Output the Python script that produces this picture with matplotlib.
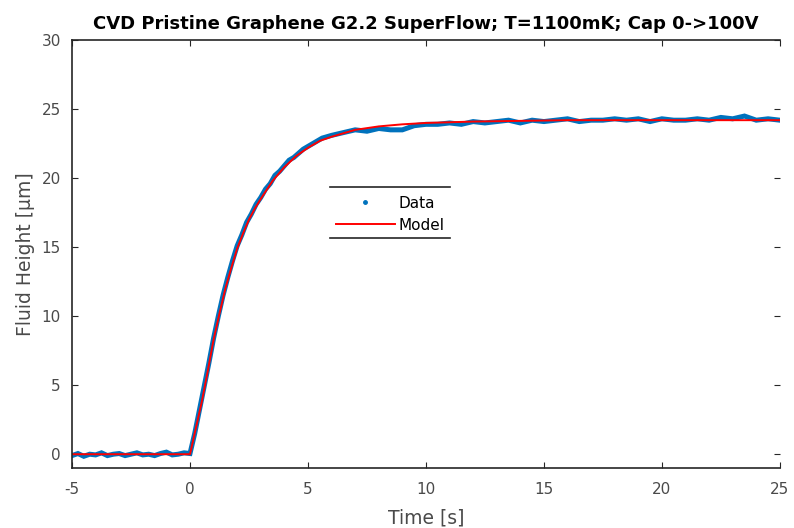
import numpy as np
import matplotlib
matplotlib.use("Agg")
import matplotlib.pyplot as plt
from matplotlib.lines import Line2D

# Measured fluid height (μm) vs time (s)
pre_t = np.arange(-5.0, 0.001, 0.25)
pre_y = [-0.1, 0.05, -0.15, 0.0, -0.05, 0.1, -0.1, 0.0, 0.05, -0.1, 0.0,
         0.1, -0.05, 0.0, -0.1, 0.05, 0.15, -0.05, 0.0, 0.1, 0.05]

rise_t = np.arange(0.2, 6.001, 0.2)
rise_y = [1.5, 3.2, 4.9, 6.6, 8.4, 10.0, 11.5, 12.8, 14.0, 15.1,
          15.9, 16.8, 17.4, 18.1, 18.6, 19.2, 19.6, 20.2, 20.5, 20.9,
          21.3, 21.5, 21.8, 22.1, 22.3, 22.5, 22.7, 22.9, 23.0, 23.1]

plateau_t = np.arange(6.5, 25.001, 0.5)
plateau_y = [23.3, 23.5, 23.4, 23.6, 23.5, 23.5, 23.8, 23.9, 23.9, 24.0,
             23.9, 24.1, 24.0, 24.1, 24.2, 24.0, 24.2, 24.1, 24.2, 24.3,
             24.1, 24.2, 24.2, 24.3, 24.2, 24.3, 24.1, 24.3, 24.2, 24.2,
             24.3, 24.2, 24.4, 24.3, 24.5, 24.2, 24.3, 24.2]

# Fitted model curve
model_t = [-5, 0, 0.25, 0.5, 0.75, 1.0, 1.25, 1.5, 1.75, 2.0, 2.25, 2.5, 2.75,
           3.0, 3.5, 4.0, 4.5, 5.0, 5.5, 6.0, 7.0, 8.0, 9.0, 10, 12, 14,
           16, 18, 20, 22, 24, 25]
model_y = [0, 0, 1.9, 3.8, 6.0, 8.3, 10.2, 12.0, 13.5, 14.9, 16.0, 17.0, 17.8,
           18.5, 19.8, 20.8, 21.6, 22.2, 22.7, 23.0, 23.5, 23.75, 23.9, 24.0,
           24.1, 24.15, 24.2, 24.2, 24.2, 24.2, 24.2, 24.2]

data_t = np.concatenate([pre_t, rise_t, plateau_t])
data_y = np.concatenate([pre_y, rise_y, plateau_y])

x_ticks = [-5, 0, 5, 10, 15, 20, 25]
y_ticks = [0, 5, 10, 15, 20, 25, 30]

plt.rcParams['font.family'] = ['DejaVu Sans']
plt.rcParams['axes.unicode_minus'] = False

fig = plt.figure(figsize=(7.94, 5.28), dpi=100)
ax = fig.add_axes([0.0907, 0.1136, 0.8915, 0.8104])

blue = '#0072BD'
ax.plot(data_t, data_y, color=blue, lw=3.6, solid_joinstyle='miter')
ax.plot(model_t, model_y, color='#FF0000', lw=1.4)

ax.set_xlim(-5, 25)
ax.set_ylim(-1, 30)
ax.set_xticks(x_ticks)
ax.set_yticks(y_ticks)
ax.tick_params(direction='in', length=4, width=0.8, top=True, right=True,
               labelsize=11, labelcolor='#4a4a4a', color='#262626')
ax.tick_params(axis='x', pad=10)
ax.tick_params(axis='y', pad=8)
ax.spines['right'].set_visible(False)
for s in ('left', 'bottom', 'top'):
    ax.spines[s].set_linewidth(1.2)
    ax.spines[s].set_color('#262626')

ax.set_xlabel('Time [s]', fontsize=13.5, color='#4a4a4a', labelpad=8)
ax.set_ylabel('Fluid Height [μm]', fontsize=13.5, color='#4a4a4a', labelpad=5)
ax.set_title('CVD Pristine Graphene G2.2 SuperFlow; T=1100mK; Cap 0->100V',
             fontsize=13, fontweight='bold', pad=8)

handles = [Line2D([], [], color=blue, marker='.', markersize=5, linestyle='None'),
           Line2D([], [], color='#FF0000', lw=1.4)]
leg = ax.legend(handles, ['Data', 'Model'], loc='center',
                bbox_to_anchor=(0.449, 0.593), frameon=False, fontsize=11,
                handlelength=3.9, handletextpad=0.2, labelspacing=0.45)
for yy in (0.657, 0.537):
    ax.plot([0.364, 0.534], [yy, yy], transform=ax.transAxes,
            color='#262626', lw=1.2, clip_on=False)

fig.savefig('out.png', dpi=100)
